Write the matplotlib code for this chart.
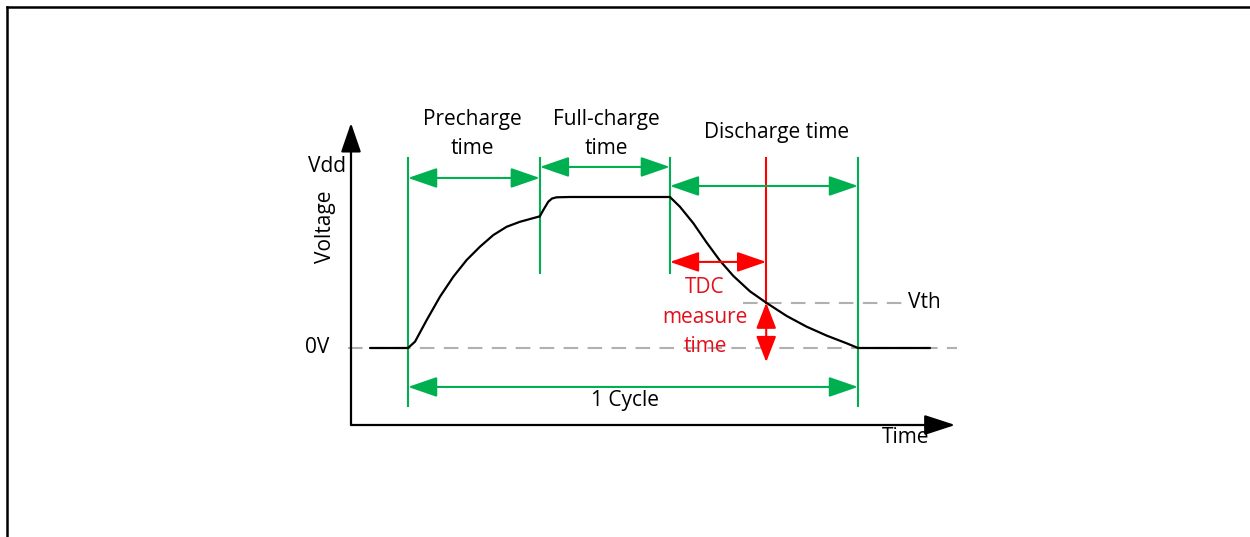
import numpy as np
import matplotlib
matplotlib.use('Agg')
import matplotlib.pyplot as plt
from matplotlib.lines import Line2D
from matplotlib.patches import FancyArrowPatch

plt.rcParams['font.family'] = ['Open Sans', 'DejaVu Sans']

GREEN = '#00b050'
RED = '#ff0000'
GREY = '#b0b0b0'

# phase boundaries along the time axis (start, end of precharge, end of full charge, end of discharge)
t_phase = [0.0, 2.93, 5.82, 10.0]
t_tdc = 7.96
v_vdd = 1.0
v_th = 0.30

# voltage waveform, one piece per phase
idle_t = [-0.84, 0.0]
idle_v = [0.0, 0.0]
pre_t = [0.0, 0.156, 0.415, 0.711, 1.007, 1.304, 1.6, 1.896, 2.193, 2.489, 2.93]
pre_v = [0.0, 0.042, 0.185, 0.34, 0.472, 0.583, 0.671, 0.748, 0.803, 0.836, 0.872]
step_t = [2.93, 3.007, 3.118, 3.2, 3.304, 3.6, 5.82]
step_v = [0.872, 0.914, 0.969, 0.99, 0.998, 1.0, 1.0]
dis_t = [5.82, 6.044, 6.341, 6.637, 6.933, 7.23, 7.6, 7.96, 8.415, 8.859, 9.304, 9.748, 10.0]
dis_v = [1.0, 0.935, 0.826, 0.698, 0.578, 0.477, 0.375, 0.30, 0.212, 0.141, 0.082, 0.031, 0.0]
tail_t = [10.0, 11.6]
tail_v = [0.0, 0.0]

# arrow heights for the phase spans
pre_arrow_v = 1.126
full_arrow_v = 1.199
dis_arrow_v = 1.073
cycle_arrow_v = -0.258
tdc_arrow_v = 0.57
tdc_low_v = -0.093

line_top = 1.258
line_low = -0.384
short_low = 0.497

axis_t0 = -1.267
axis_v0 = -0.51
axis_t1 = 12.16
axis_v1 = 1.49

fig = plt.figure(figsize=(12.5, 5.37), dpi=100)
ax = fig.add_axes([0, 0, 1, 1])
ax.set_xlim(-9.067, 18.711)
ax.set_ylim(-1.2517, 2.3046)
ax.axis('off')


def arrow(p0, p1, color, style='<|-|>', hl=18, hw=6.2, lw=1.5):
	a = FancyArrowPatch(p0, p1, arrowstyle='%s,head_length=%g,head_width=%g' % (style, hl, hw),
						mutation_scale=1, shrinkA=0, shrinkB=0, color=color, lw=lw, zorder=4)
	ax.add_patch(a)


# dashed reference levels
ax.plot([-1.33, 12.2], [0, 0], color=GREY, lw=1.5, dashes=(7, 4.5), zorder=1)
ax.plot([7.44, 11.0], [v_th, v_th], color=GREY, lw=1.5, dashes=(7, 4.5), zorder=1)

# axes with arrows
arrow((axis_t0, axis_v0), (axis_t1, axis_v0), 'black', style='-|>', hl=19, hw=6.2, lw=1.6)
arrow((axis_t0, axis_v0), (axis_t0, axis_v1), 'black', style='-|>', hl=18, hw=6.2, lw=1.6)

# waveform
for tt, vv in [(idle_t, idle_v), (pre_t, pre_v), (step_t, step_v), (dis_t, dis_v), (tail_t, tail_v)]:
	ax.plot(tt, vv, color='black', lw=1.6, zorder=3, solid_capstyle='round', solid_joinstyle='round')

# green markers
ax.plot([t_phase[0]] * 2, [line_low, line_top], color=GREEN, lw=1.5, zorder=2)
ax.plot([t_phase[3]] * 2, [line_low, line_top], color=GREEN, lw=1.5, zorder=2)
ax.plot([t_phase[1]] * 2, [short_low, line_top], color=GREEN, lw=1.5, zorder=2)
ax.plot([t_phase[2]] * 2, [short_low, line_top], color=GREEN, lw=1.5, zorder=2)

arrow((t_phase[0], pre_arrow_v), (t_phase[1], pre_arrow_v), GREEN)
arrow((t_phase[1], full_arrow_v), (t_phase[2], full_arrow_v), GREEN)
arrow((t_phase[2], dis_arrow_v), (t_phase[3], dis_arrow_v), GREEN)
arrow((t_phase[0], cycle_arrow_v), (t_phase[3], cycle_arrow_v), GREEN)

# TDC measurement
ax.plot([t_tdc, t_tdc], [v_th, line_top], color=RED, lw=1.5, zorder=2)
arrow((t_phase[2], tdc_arrow_v), (t_tdc, tdc_arrow_v), RED)
arrow((t_tdc, v_th), (t_tdc, tdc_low_v), RED, hl=16, hw=6.2)

fs = 15
ax.text(1.44, 1.42, 'Precharge\ntime', ha='center', va='center', fontsize=fs, linespacing=1.5)
ax.text(4.4, 1.42, 'Full-charge\ntime', ha='center', va='center', fontsize=fs, linespacing=1.5)
ax.text(8.18, 1.43, 'Discharge time', ha='center', va='center', fontsize=fs)
ax.text(-1.8, 1.199, 'Vdd', ha='center', va='center', fontsize=fs)
ax.text(-1.84, 0.80, 'Voltage', ha='center', va='center', fontsize=fs, rotation=90)
ax.text(-2.02, 0.0, '0V', ha='center', va='center', fontsize=fs)
ax.text(4.82, -0.35, '1 Cycle', ha='center', va='center', fontsize=fs)
ax.text(11.11, v_th, 'Vth', ha='left', va='center', fontsize=fs)
ax.text(10.53, -0.59, 'Time', ha='left', va='center', fontsize=fs)
ax.text(6.6, 0.205, 'TDC\nmeasure\ntime', ha='center', va='center', fontsize=fs, color='#e3101c',
		linespacing=1.55, zorder=5)

# outer frame (top and left edges)
fig.add_artist(Line2D([7 / 1250, 1], [1 - 7 / 537, 1 - 7 / 537], color='black', lw=1.8))
fig.add_artist(Line2D([7 / 1250, 7 / 1250], [0, 1 - 7 / 537], color='black', lw=1.8))

fig.savefig('out.png', dpi=100)
